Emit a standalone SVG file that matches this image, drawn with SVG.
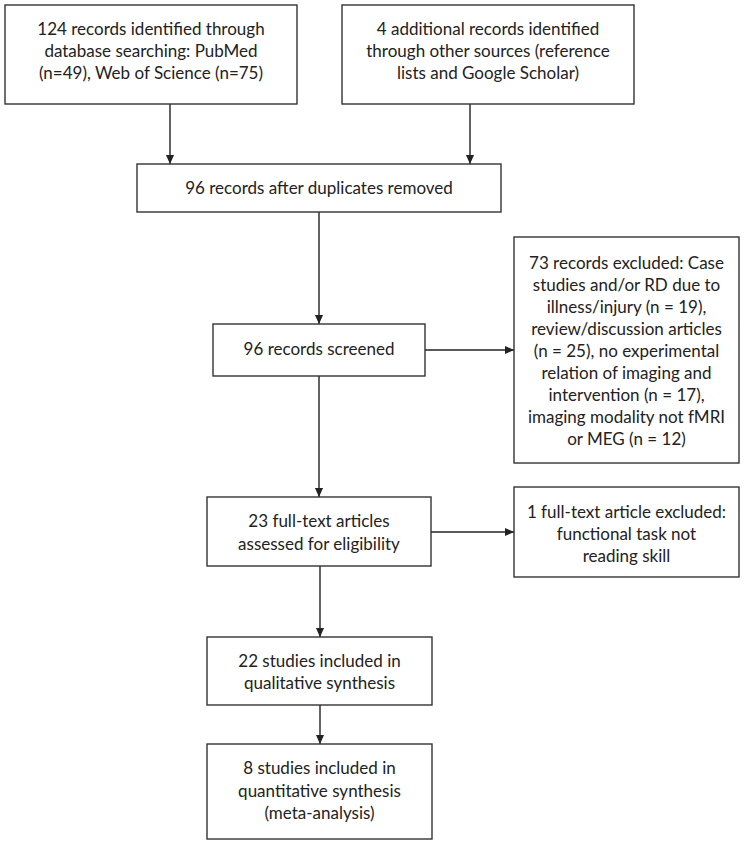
<svg xmlns="http://www.w3.org/2000/svg" width="744" height="845" viewBox="0 0 744 845">
<style>
.box{fill:#fff;stroke:#333;stroke-width:1.4}
.t{font-family:Lato,"Open Sans","Liberation Sans",sans-serif;font-size:17px;fill:#222;text-anchor:middle}
.c{stroke:#222;stroke-width:1.4;fill:none}
</style>
<defs>
<marker id="ah" viewBox="0 0 10 10" refX="10" refY="5" markerWidth="9" markerHeight="10" markerUnits="userSpaceOnUse" orient="auto">
<path d="M0,0.5 L10,5 L0,9.5 z" fill="#222"/>
</marker>
</defs>
<rect width="744" height="845" fill="#fff"/>
<g id="connectors">
<line class="c" x1="170" y1="104" x2="170" y2="164" marker-end="url(#ah)"/>
<line class="c" x1="470" y1="104" x2="470" y2="164" marker-end="url(#ah)"/>
<line class="c" x1="319" y1="212" x2="319" y2="324" marker-end="url(#ah)"/>
<line class="c" x1="425" y1="350" x2="514" y2="350" marker-end="url(#ah)"/>
<line class="c" x1="319" y1="376" x2="319" y2="497" marker-end="url(#ah)"/>
<line class="c" x1="431" y1="532" x2="514" y2="532" marker-end="url(#ah)"/>
<line class="c" x1="320" y1="566" x2="320" y2="637" marker-end="url(#ah)"/>
<line class="c" x1="320" y1="705" x2="320" y2="744" marker-end="url(#ah)"/>
</g>
<g id="n1">
<rect class="box" x="5" y="5" width="292" height="99"/>
<text class="t" x="151" y="35">124 records identified through</text>
<text class="t" x="151" y="57">database searching: PubMed</text>
<text class="t" x="151" y="79">(n=49), Web of Science (n=75)</text>
</g>
<g id="n2">
<rect class="box" x="342" y="5" width="292" height="99"/>
<text class="t" x="488" y="35">4 additional records identified</text>
<text class="t" x="488" y="57">through other sources (reference</text>
<text class="t" x="488" y="79">lists and Google Scholar)</text>
</g>
<g id="n3">
<rect class="box" x="137" y="164" width="364" height="48"/>
<text class="t" x="319" y="194">96 records after duplicates removed</text>
</g>
<g id="n4">
<rect class="box" x="213" y="324" width="212" height="52"/>
<text class="t" x="319" y="355">96 records screened</text>
</g>
<g id="n5">
<rect class="box" x="514" y="237" width="225" height="226"/>
<text class="t" x="626.5" y="269">73 records excluded: Case</text>
<text class="t" x="626.5" y="291">studies and/or RD due to</text>
<text class="t" x="626.5" y="313">illness/injury (n = 19),</text>
<text class="t" x="626.5" y="335">review/discussion articles</text>
<text class="t" x="626.5" y="357">(n = 25), no experimental</text>
<text class="t" x="626.5" y="379">relation of imaging and</text>
<text class="t" x="626.5" y="401">intervention (n = 17),</text>
<text class="t" x="626.5" y="423">imaging modality not fMRI</text>
<text class="t" x="626.5" y="445">or MEG (n = 12)</text>
</g>
<g id="n6">
<rect class="box" x="207" y="497" width="224" height="69"/>
<text class="t" x="319" y="527">23 full-text articles</text>
<text class="t" x="319" y="550">assessed for eligibility</text>
</g>
<g id="n7">
<rect class="box" x="514" y="487" width="225" height="90"/>
<text class="t" x="626.5" y="518">1 full-text article excluded:</text>
<text class="t" x="626.5" y="540">functional task not</text>
<text class="t" x="626.5" y="562">reading skill</text>
</g>
<g id="n8">
<rect class="box" x="207" y="637" width="225" height="68"/>
<text class="t" x="319.5" y="667">22 studies included in</text>
<text class="t" x="319.5" y="689">qualitative synthesis</text>
</g>
<g id="n9">
<rect class="box" x="207" y="744" width="225" height="95"/>
<text class="t" x="319.5" y="774">8 studies included in</text>
<text class="t" x="319.5" y="797">quantitative synthesis</text>
<text class="t" x="319.5" y="819">(meta-analysis)</text>
</g>
</svg>
